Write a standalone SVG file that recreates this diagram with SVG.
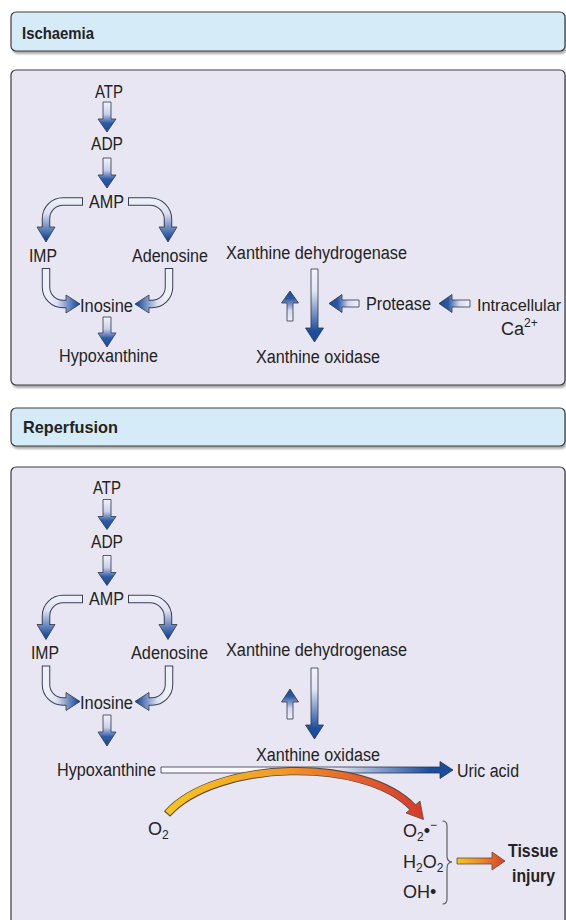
<svg xmlns="http://www.w3.org/2000/svg" width="566" height="920" viewBox="0 0 566 920">
<style>
text{font-family:"Liberation Sans",Arial,sans-serif;font-size:18px;fill:#232323}
.hd{font-weight:bold;font-size:17px}
.b{font-weight:bold}
.sm{font-size:12px}
.hdr{fill:#d5ebf8;stroke:#3d3d3d;stroke-width:1.2}
.pnl{fill:#e8e6f3;stroke:#3d3d3d;stroke-width:1.2}
.sh{fill:#8f8f8f;opacity:.75;filter:url(#blur)}
.ol{fill:none;stroke:#3a3f55;stroke-width:8.5}
.blk{stroke:#2f3548;stroke-width:.8;stroke-linejoin:miter}
.brace{fill:none;stroke:#555;stroke-width:1.1}
</style>
<defs>
<filter id="blur" x="-5%" y="-5%" width="110%" height="120%"><feGaussianBlur stdDeviation="1.2"/></filter>
<linearGradient id="gDown" x1="0" y1="0" x2="0" y2="1"><stop offset="0" stop-color="#f2f3fa"/><stop offset="0.4" stop-color="#c9d1ea"/><stop offset="0.7" stop-color="#2f5ca8"/><stop offset="1" stop-color="#1a4a99"/></linearGradient>
<linearGradient id="gLong" x1="0" y1="0" x2="0" y2="1"><stop offset="0" stop-color="#f2f3fa"/><stop offset="0.3" stop-color="#e3e7f4"/><stop offset="0.85" stop-color="#1d4e9e"/><stop offset="1" stop-color="#1a4a99"/></linearGradient>
<linearGradient id="gUp" x1="0" y1="1" x2="0" y2="0"><stop offset="0" stop-color="#eef0f8"/><stop offset="0.35" stop-color="#d3d9ee"/><stop offset="0.75" stop-color="#2b58a5"/><stop offset="1" stop-color="#1a4a99"/></linearGradient>
<linearGradient id="gLeft" x1="1" y1="0" x2="0" y2="0"><stop offset="0" stop-color="#f2f3fa"/><stop offset="0.35" stop-color="#d3d9ee"/><stop offset="0.7" stop-color="#2b58a5"/><stop offset="1" stop-color="#1a4a99"/></linearGradient>
<linearGradient id="gcV" gradientUnits="userSpaceOnUse" x1="0" y1="200" x2="0" y2="238"><stop offset="0" stop-color="#eef0f8"/><stop offset="0.35" stop-color="#dbe0f1"/><stop offset="1" stop-color="#1c4d9d"/></linearGradient>
<linearGradient id="gcL" gradientUnits="userSpaceOnUse" x1="48" y1="0" x2="78" y2="0"><stop offset="0" stop-color="#eef0f8"/><stop offset="0.3" stop-color="#dbe0f1"/><stop offset="1" stop-color="#1c4d9d"/></linearGradient>
<linearGradient id="gcR" gradientUnits="userSpaceOnUse" x1="166" y1="0" x2="137" y2="0"><stop offset="0" stop-color="#eef0f8"/><stop offset="0.3" stop-color="#dbe0f1"/><stop offset="1" stop-color="#1c4d9d"/></linearGradient>
<linearGradient id="gUric" gradientUnits="userSpaceOnUse" x1="325" y1="0" x2="430" y2="0"><stop offset="0" stop-color="#f8f8fc"/><stop offset="1" stop-color="#1c4d9d"/></linearGradient>
<linearGradient id="gArc" gradientUnits="userSpaceOnUse" x1="167" y1="0" x2="422" y2="0"><stop offset="0" stop-color="#f8c51c"/><stop offset="0.45" stop-color="#f09a2a"/><stop offset="0.75" stop-color="#e4602d"/><stop offset="1" stop-color="#d63a2e"/></linearGradient>
<linearGradient id="gTis" x1="0" y1="0" x2="1" y2="0"><stop offset="0" stop-color="#f8c51c"/><stop offset="0.5" stop-color="#ef8a2b"/><stop offset="1" stop-color="#d63a2e"/></linearGradient>
</defs>

<g id="panels">
<rect class="sh" x="12.5" y="15" width="554" height="39" rx="5"/>
<rect class="hdr" x="11" y="12" width="554" height="39" rx="5"/>
<rect class="sh" x="12.5" y="73" width="554" height="315" rx="5"/>
<rect class="pnl" x="11" y="70" width="554" height="315" rx="5"/>
<rect class="sh" x="12.5" y="411" width="554" height="38" rx="5"/>
<rect class="hdr" x="11" y="408" width="554" height="38" rx="5"/>
<rect class="sh" x="12.5" y="470" width="554" height="470" rx="5"/>
<rect class="pnl" x="11" y="467" width="554" height="470" rx="5"/>
</g>

<g id="header-ischaemia"><text class="hd" x="22" y="39" textLength="72" lengthAdjust="spacingAndGlyphs">Ischaemia</text></g>
<g id="header-reperfusion"><text class="hd" x="23" y="433" textLength="95" lengthAdjust="spacingAndGlyphs">Reperfusion</text></g>

<!-- Ischaemia nodes -->
<g id="i-atp"><text x="95" y="98" textLength="28" lengthAdjust="spacingAndGlyphs">ATP</text></g>
<g id="i-adp"><text x="91" y="150" textLength="32" lengthAdjust="spacingAndGlyphs">ADP</text></g>
<g id="i-amp"><text x="89" y="208" textLength="35" lengthAdjust="spacingAndGlyphs">AMP</text></g>
<g id="i-imp"><text x="29" y="262" textLength="28" lengthAdjust="spacingAndGlyphs">IMP</text></g>
<g id="i-adenosine"><text x="132" y="262" textLength="76" lengthAdjust="spacingAndGlyphs">Adenosine</text></g>
<g id="i-inosine"><text x="80" y="312" textLength="53" lengthAdjust="spacingAndGlyphs">Inosine</text></g>
<g id="i-hypoxanthine"><text x="59" y="362" textLength="99" lengthAdjust="spacingAndGlyphs">Hypoxanthine</text></g>
<g id="i-xdh"><text x="226" y="259" textLength="181" lengthAdjust="spacingAndGlyphs">Xanthine dehydrogenase</text></g>
<g id="i-xo"><text x="256" y="363" textLength="124" lengthAdjust="spacingAndGlyphs">Xanthine oxidase</text></g>
<g id="i-protease"><text x="366" y="310" textLength="65" lengthAdjust="spacingAndGlyphs">Protease</text></g>
<g id="i-calcium"><text x="477" y="311" style="font-size:16.3px">Intracellular</text><text x="501" y="335">Ca<tspan class="sm" dy="-8">2+</tspan></text></g>

<!-- Reperfusion nodes -->
<g id="r-atp"><text x="93" y="494" textLength="28" lengthAdjust="spacingAndGlyphs">ATP</text></g>
<g id="r-adp"><text x="91" y="548" textLength="32" lengthAdjust="spacingAndGlyphs">ADP</text></g>
<g id="r-amp"><text x="89" y="605" textLength="35" lengthAdjust="spacingAndGlyphs">AMP</text></g>
<g id="r-imp"><text x="31" y="659" textLength="28" lengthAdjust="spacingAndGlyphs">IMP</text></g>
<g id="r-adenosine"><text x="131" y="659" textLength="77" lengthAdjust="spacingAndGlyphs">Adenosine</text></g>
<g id="r-inosine"><text x="80" y="709" textLength="53" lengthAdjust="spacingAndGlyphs">Inosine</text></g>
<g id="r-hypoxanthine"><text x="57" y="776" textLength="99" lengthAdjust="spacingAndGlyphs">Hypoxanthine</text></g>
<g id="r-xdh"><text x="226" y="656" textLength="181" lengthAdjust="spacingAndGlyphs">Xanthine dehydrogenase</text></g>
<g id="r-xo"><text x="256" y="761" textLength="124" lengthAdjust="spacingAndGlyphs">Xanthine oxidase</text></g>
<g id="r-uric"><text x="457" y="777" textLength="62" lengthAdjust="spacingAndGlyphs">Uric acid</text></g>
<g id="r-o2"><text x="148" y="835">O<tspan class="sm" dy="4">2</tspan></text></g>
<g id="r-ros">
<text x="403" y="837">O<tspan class="sm" dy="4">2</tspan><tspan dy="-4">•</tspan><tspan class="sm" dy="-8">−</tspan></text>
<text x="403" y="868">H<tspan class="sm" dy="4">2</tspan><tspan dy="-4">O</tspan><tspan class="sm" dy="4">2</tspan></text>
<text x="403" y="898">OH•</text>
<path class="brace" d="M442.5 821 Q447 821 447 826 V856 Q447 861.5 452 862 Q447 862.5 447 868 V899 Q447 904 442.5 904"/>
</g>
<g id="r-tissue"><text class="b" x="508" y="857" textLength="50" lengthAdjust="spacingAndGlyphs">Tissue</text><text class="b" x="512" y="882" textLength="43" lengthAdjust="spacingAndGlyphs">injury</text></g>

<!-- connectors -->
<g id="connectors">
 <g id="i-flow">
  <polygon class="blk" fill="url(#gDown)" points="103,102 111,102 111,119 116,119 107,132 98,119 103,119"/>
  <polygon class="blk" fill="url(#gDown)" points="103,158 111,158 111,175 116,175 107,188 98,175 103,175"/>
  <path class="ol" d="M83 201.5 H63 A17 17 0 0 0 46 218.5 V228"/>
  <polygon class="blk" fill="url(#gcV)" points="37,227 55,227 46,242"/>
  <path fill="none" stroke="url(#gcV)" stroke-width="6.5" d="M82 201.5 H63 A17 17 0 0 0 46 218.5 V229"/>
  <path class="ol" d="M128 201.5 H150 A18 18 0 0 1 168 219.5 V228"/>
  <polygon class="blk" fill="url(#gcV)" points="159,227 177,227 168,242"/>
  <path fill="none" stroke="url(#gcV)" stroke-width="6.5" d="M129 201.5 H150 A18 18 0 0 1 168 219.5 V229"/>
  <path class="ol" d="M46 268 V287 A17 17 0 0 0 63 304 H67"/>
  <polygon class="blk" fill="url(#gcL)" points="66,295 66,313 80,304"/>
  <path fill="none" stroke="url(#gcL)" stroke-width="6.5" d="M46 269 V287 A17 17 0 0 0 63 304 H68"/>
  <path class="ol" d="M169 268 V287 A17 17 0 0 1 152 304 H148"/>
  <polygon class="blk" fill="url(#gcR)" points="149,295 149,313 135,304"/>
  <path fill="none" stroke="url(#gcR)" stroke-width="6.5" d="M169 269 V287 A17 17 0 0 1 152 304 H147"/>
  <polygon class="blk" fill="url(#gDown)" points="103,317 111,317 111,333 116,333 107,347 98,333 103,333"/>
  <polygon class="blk" fill="url(#gLong)" points="311,269 318,269 318,328 323.5,328 314.5,342 305.5,328 311,328"/>
  <polygon class="blk" fill="url(#gUp)" points="290,291 298.5,303 293,303 293,321 287,321 287,303 281.5,303"/>
  <polygon class="blk" fill="url(#gLeft)" points="329,303.5 342,294.5 342,300 359,300 359,307 342,307 342,312.5"/>
  <polygon class="blk" fill="url(#gLeft)" points="439,303.5 452,294.5 452,300 470,300 470,307 452,307 452,312.5"/>
 </g>
 <g id="r-flow">
  <g transform="translate(0,397.5)">
  <polygon class="blk" fill="url(#gDown)" points="103,102 111,102 111,119 116,119 107,132 98,119 103,119"/>
  <polygon class="blk" fill="url(#gDown)" points="103,158 111,158 111,175 116,175 107,188 98,175 103,175"/>
  <path class="ol" d="M83 201.5 H63 A17 17 0 0 0 46 218.5 V228"/>
  <polygon class="blk" fill="url(#gcV)" points="37,227 55,227 46,242"/>
  <path fill="none" stroke="url(#gcV)" stroke-width="6.5" d="M82 201.5 H63 A17 17 0 0 0 46 218.5 V229"/>
  <path class="ol" d="M128 201.5 H150 A18 18 0 0 1 168 219.5 V228"/>
  <polygon class="blk" fill="url(#gcV)" points="159,227 177,227 168,242"/>
  <path fill="none" stroke="url(#gcV)" stroke-width="6.5" d="M129 201.5 H150 A18 18 0 0 1 168 219.5 V229"/>
  <path class="ol" d="M46 268 V287 A17 17 0 0 0 63 304 H67"/>
  <polygon class="blk" fill="url(#gcL)" points="66,295 66,313 80,304"/>
  <path fill="none" stroke="url(#gcL)" stroke-width="6.5" d="M46 269 V287 A17 17 0 0 0 63 304 H68"/>
  <path class="ol" d="M169 268 V287 A17 17 0 0 1 152 304 H148"/>
  <polygon class="blk" fill="url(#gcR)" points="149,295 149,313 135,304"/>
  <path fill="none" stroke="url(#gcR)" stroke-width="6.5" d="M169 269 V287 A17 17 0 0 1 152 304 H147"/>
  </g>
  <polygon class="blk" fill="url(#gDown)" points="103,715 111,715 111,732 116,732 107,746 98,732 103,732"/>
  <polygon class="blk" fill="url(#gLong)" points="311,668 318,668 318,725 323.5,725 314.5,739 305.5,725 311,725"/>
  <polygon class="blk" fill="url(#gUp)" points="290,689 298.5,702 293,702 293,719 287,719 287,702 281.5,702"/>
  <polygon class="blk" fill="url(#gUric)" points="161,767 440,767 440,761.5 453,770 440,778.5 440,773 161,773"/>
  <path fill="none" stroke="#5a4a3c" stroke-width="8.3" d="M167 814 C215 760 365 756 413 807.5"/>
  <polygon stroke="#5a4a3c" stroke-width=".8" fill="url(#gArc)" points="420,801 406,813 423.5,819.5"/>
  <path fill="none" stroke="url(#gArc)" stroke-width="6.5" d="M167.7 813.2 C215 760 365 756 414 808.5"/>
  <polygon stroke="#5a4a3c" stroke-width=".8" fill="url(#gTis)" points="457,858 492,858 492,852 505,861 492,870 492,864 457,864"/>
 </g>
</g>
</svg>
